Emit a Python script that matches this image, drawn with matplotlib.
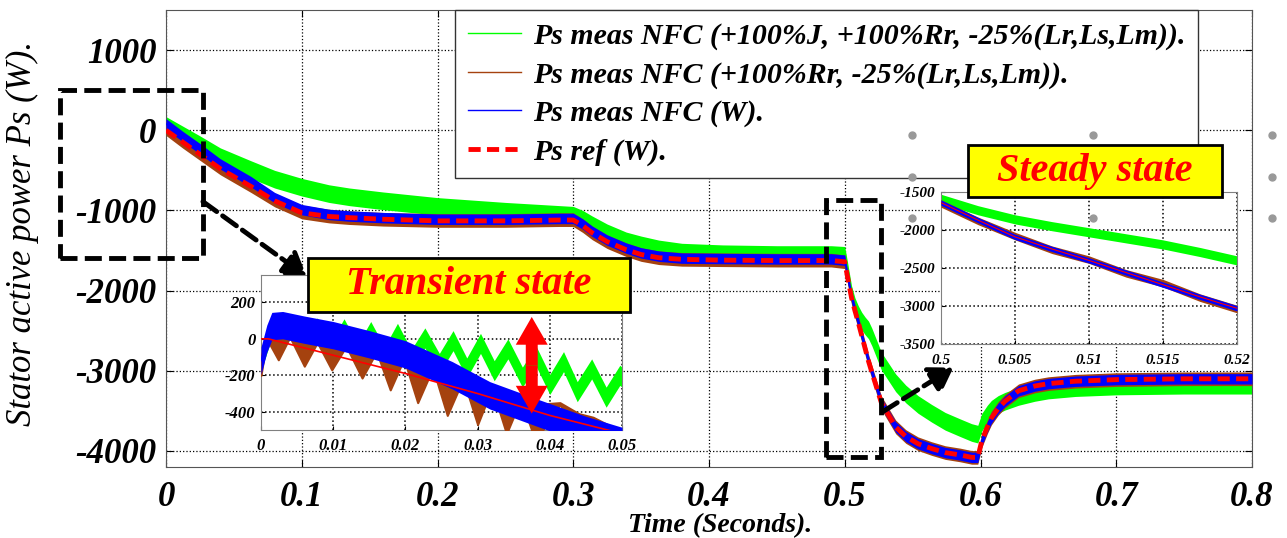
import matplotlib
matplotlib.use("Agg")
import matplotlib.pyplot as plt
from matplotlib.lines import Line2D
from matplotlib.patches import Rectangle

# ---- main plot data (time in s, stator power in W) ----
t_main = [0, 0.0125, 0.025, 0.04, 0.0625, 0.08, 0.1, 0.12, 0.135, 0.16, 0.2, 0.25,
          0.29, 0.3, 0.307, 0.314, 0.325, 0.339, 0.35, 0.363, 0.38, 0.41, 0.45, 0.49,
          0.5, 0.5025, 0.505, 0.5075, 0.51, 0.5125, 0.515, 0.5175, 0.52, 0.527,
          0.5375, 0.545, 0.554, 0.564, 0.574, 0.585, 0.5935, 0.598, 0.601, 0.605,
          0.608, 0.613, 0.618, 0.628, 0.64, 0.65, 0.67, 0.7, 0.75, 0.8]
ps_ref = [0, -150, -300, -480, -700, -880, -1030, -1075, -1090, -1110, -1130, -1130,
          -1120, -1120, -1190, -1280, -1390, -1490, -1550, -1590, -1610, -1620, -1625, -1625,
          -1640, -1870, -2090, -2250, -2400, -2560, -2720, -2880, -3020, -3400,
          -3700, -3820, -3910, -3970, -4020, -4050, -4080, -4080, -3870, -3700,
          -3590, -3470, -3380, -3250, -3190, -3160, -3130, -3110, -3100, -3100]
ps_nfc = [80, -80, -230, -420, -640, -840, -990, -1050, -1070, -1090, -1110, -1110,
          -1100, -1100, -1170, -1260, -1370, -1470, -1530, -1570, -1595, -1600, -1605, -1605,
          -1620, -1860, -2080, -2250, -2400, -2560, -2720, -2880, -3020, -3400,
          -3700, -3820, -3910, -3970, -4020, -4050, -4080, -4080, -3870, -3700,
          -3590, -3470, -3380, -3250, -3190, -3160, -3130, -3110, -3100, -3100]
ps_rr = [20, -140, -290, -470, -690, -870, -1020, -1070, -1090, -1110, -1125, -1125,
         -1115, -1115, -1190, -1280, -1390, -1490, -1550, -1590, -1610, -1615, -1620, -1620,
         -1640, -1870, -2090, -2250, -2400, -2560, -2720, -2880, -3020, -3400,
         -3700, -3820, -3910, -3970, -4020, -4050, -4080, -4080, -3870, -3700,
         -3590, -3470, -3380, -3250, -3190, -3160, -3130, -3110, -3100, -3100]
ps_j = [60, -60, -180, -330, -490, -610, -710, -790, -830, -880, -950, -1010,
        -1050, -1060, -1110, -1180, -1280, -1380, -1430, -1480, -1520, -1540, -1550, -1550,
        -1560, -1800, -2050, -2200, -2300, -2380, -2440, -2490, -2580, -2880,
        -3150, -3290, -3420, -3530, -3630, -3710, -3770, -3790, -3640, -3540,
        -3480, -3420, -3380, -3320, -3270, -3240, -3210, -3190, -3180, -3180]
ripple_main = {"j": 110, "rr": 85, "nfc": 65}

# ---- transient zoom (0 .. 0.05 s) ----
t_tr_nfc = [0, 0.0008, 0.0015, 0.003, 0.006, 0.01, 0.015, 0.02, 0.0265, 0.0317, 0.0386, 0.045, 0.05]
tr_nfc = [-120, 0, 70, 75, 50, 20, -30, -85, -200, -310, -410, -500, -560]
t_tr_ref = [0, 0.001, 0.01, 0.02, 0.03, 0.04, 0.05]
tr_ref = [0, 0, -90, -190, -300, -420, -520]
t_tr_rr = [0, 0.0008, 0.0024, 0.004, 0.006, 0.0078, 0.0098, 0.0118, 0.014, 0.016, 0.0179,
           0.0198, 0.0217, 0.0238, 0.0258, 0.028, 0.030, 0.032, 0.034, 0.036, 0.038,
           0.0414, 0.044, 0.046, 0.048]
tr_rr_low = [-200, 0, -115, 10, -150, -20, -170, -40, -215, -70, -280,
             -110, -350, -160, -420, -220, -470, -270, -520, -330, -560,
             -360, -520, -440, -520]
tr_rr_high = [-100, 20, 10, 20, -10, -10, -50, -30, -80, -60, -110,
              -100, -150, -150, -200, -210, -250, -260, -300, -320, -360,
              -350, -410, -430, -470]
t_tr_j = [0, 0.0015, 0.0040, 0.0059, 0.0078, 0.0097, 0.0115, 0.0134, 0.0152, 0.0171, 0.0189,
          0.0208, 0.0227, 0.0247, 0.0266, 0.0285, 0.0304, 0.0323, 0.0342, 0.0362, 0.0381,
          0.0400, 0.0419, 0.0438, 0.0458, 0.0478, 0.0497, 0.05]
tr_j = [-120, 60, 70, -50, 60, -70, 55, -85, 40, -100, 30,
        -115, 5, -135, -10, -160, -25, -175, -55, -210, -95,
        -250, -125, -290, -165, -320, -200, -210]
tr_xticks = [0, 0.01, 0.02, 0.03, 0.04, 0.05]
tr_xticklabels = ["0", "0.01", "0.02", "0.03", "0.04", "0.05"]
tr_yticks = [200, 0, -200, -400]

# ---- steady zoom (0.5 .. 0.52 s) ----
t_st = [0.5, 0.5025, 0.505, 0.5075, 0.51, 0.5125, 0.515, 0.5175, 0.52]
st_nfc = [-1640, -1870, -2090, -2250, -2400, -2560, -2720, -2880, -3030]
st_rr = [-1650, -1880, -2080, -2260, -2390, -2570, -2700, -2890, -3040]
st_j = [-1590, -1740, -1860, -1950, -2030, -2110, -2190, -2290, -2400]
st_xticks = [0.5, 0.505, 0.51, 0.515, 0.52]
st_xticklabels = ["0.5", "0.505", "0.51", "0.515", "0.52"]
st_yticks = [-1500, -2000, -2500, -3000, -3500]

labels = ["Ps meas NFC (+100%J, +100%Rr, -25%(Lr,Ls,Lm)).",
          "Ps meas NFC (+100%Rr, -25%(Lr,Ls,Lm)).",
          "Ps meas NFC (W).",
          "Ps ref (W)."]

GREEN = "#00ff00"
BROWN = "#a5420f"
BLUE = "#0000ff"
RED = "#ff0000"

W, H = 1287, 538


def fx(px):
    return px / W


def fy(py):
    return 1 - py / H


def band(ax, t, v, half, color, z, label=None):
    lo = [x - half for x in v]
    hi = [x + half for x in v]
    ax.fill_between(t, lo, hi, color=color, lw=0, zorder=z)
    ax.plot(t, v, color=color, lw=1, zorder=z, label=label)


def style_inset(ax):
    ax.grid(True, ls=":", color="k", lw=1.1)
    ax.tick_params(direction="in", length=3, labelsize=12, pad=4)
    for s in ax.spines.values():
        s.set_color("#808080")


def main():
    plt.rcParams["font.family"] = ["Liberation Serif", "DejaVu Serif"]
    plt.rcParams["font.style"] = "italic"
    plt.rcParams["font.weight"] = "bold"
    plt.rcParams["axes.unicode_minus"] = False

    fig = plt.figure(figsize=(W / 100, H / 100), dpi=100)

    # main axes
    ax = fig.add_axes([fx(166), fy(467), (1252 - 166) / W, (467 - 10) / H])
    band(ax, t_main, ps_j, ripple_main["j"], GREEN, 2, labels[0])
    band(ax, t_main, ps_rr, ripple_main["rr"], BROWN, 3, labels[1])
    band(ax, t_main, ps_nfc, ripple_main["nfc"], BLUE, 4, labels[2])
    ax.plot(t_main, ps_ref, color=RED, lw=3.5, dashes=(2.5, 1.3), zorder=5, label=labels[3])
    ax.set_xlim(0, 0.8)
    ax.set_ylim(-4200, 1500)
    ax.set_xticks([0, 0.1, 0.2, 0.3, 0.4, 0.5, 0.6, 0.7, 0.8])
    ax.set_xticklabels(["0", "0.1", "0.2", "0.3", "0.4", "0.5", "0.6", "0.7", "0.8"])
    ax.set_yticks([1000, 0, -1000, -2000, -3000, -4000])
    ax.grid(True, ls=":", color="k", lw=0.9)
    ax.tick_params(direction="in", length=5, top=True, right=True, labelsize=25)
    ax.tick_params(axis="x", pad=10)
    ax.tick_params(axis="y", pad=7)
    for s in ax.spines.values():
        s.set_color("#555555")
    ax.set_ylabel("Stator active power Ps (W).", fontsize=25, fontweight="normal")
    ax.yaxis.set_label_coords(-0.117, 0.51)
    ax.set_xlabel("Time (Seconds).", fontsize=20, fontweight="bold")
    ax.xaxis.set_label_coords(0.51, -0.10)

    leg = ax.legend(loc="upper left", bbox_to_anchor=((455 - 166) / 1086, 1.0),
                    fontsize=21.5, fancybox=False, edgecolor="#333333", framealpha=1,
                    handlelength=1.8, borderaxespad=0, labelspacing=0.38,
                    handletextpad=0.4, borderpad=0.42)
    leg.set_zorder(6)

    # dashed zoom frames and arrows
    dash = (0, (3.5, 1.5))
    ax.add_patch(Rectangle((-0.078, -1590), 0.078 + 0.0272, 2090, fill=False, ec="k",
                           lw=3.5, ls=dash, clip_on=False, zorder=7))
    ax.add_patch(Rectangle((0.486, -4075), 0.041, 3200, fill=False, ec="k",
                           lw=3.5, ls=dash, clip_on=False, zorder=7))
    arrow = dict(arrowstyle="-|>,head_length=0.7,head_width=0.45", lw=3.5, ls=dash,
                 color="k", mutation_scale=20, shrinkA=0, shrinkB=0)
    ax.annotate("", xy=(0.1037, -1825), xytext=(0.0272, -890), arrowprops=arrow, zorder=7)
    ax.annotate("", xy=(0.580, -2960), xytext=(0.528, -3510), arrowprops=arrow, zorder=7)

    # transient inset
    a1 = fig.add_axes([fx(261), fy(430), 361 / W, 155 / H])
    band(a1, t_tr_j, tr_j, 55, GREEN, 2)
    a1.fill_between(t_tr_rr, tr_rr_low, tr_rr_high, color=BROWN, lw=1.5, ec=BROWN, zorder=3)
    band(a1, t_tr_nfc, tr_nfc, 75, BLUE, 4)
    a1.plot(t_tr_ref, tr_ref, color=RED, lw=1.2, zorder=5)
    a1.set_xlim(0, 0.05)
    a1.set_ylim(-500, 350)
    a1.set_xticks(tr_xticks)
    a1.set_xticklabels(tr_xticklabels)
    a1.set_yticks(tr_yticks)
    style_inset(a1)
    a1.tick_params(axis="x", pad=6)
    fat = "simple,head_length=1.0,head_width=1.15,tail_width=0.43"
    for tip in (120, -410):
        a1.annotate("", xy=(0.0375, tip), xytext=(0.0375, -145),
                    arrowprops=dict(arrowstyle=fat, color=RED, lw=0, mutation_scale=20,
                                    shrinkA=0, shrinkB=0), zorder=8)

    # steady inset
    a2 = fig.add_axes([fx(941), fy(344), 296 / W, 152 / H])
    band(a2, t_st, st_j, 60, GREEN, 2)
    band(a2, t_st, st_rr, 50, BROWN, 3)
    band(a2, t_st, st_nfc, 35, BLUE, 4)
    a2.plot(t_st, st_nfc, color=RED, lw=0.8, zorder=5)
    a2.set_xlim(0.5, 0.52)
    a2.set_ylim(-3500, -1500)
    a2.set_xticks(st_xticks)
    a2.set_xticklabels(st_xticklabels)
    a2.set_yticks(st_yticks)
    style_inset(a2)
    a2.tick_params(labelsize=11)
    a2.tick_params(axis="x", pad=7)

    # yellow captions
    for (x0, y0, x1, y1), txt in [((308, 258, 630, 312), "Transient state"),
                                  ((968, 145, 1222, 197), "Steady state")]:
        fig.add_artist(Rectangle((fx(x0), fy(y1)), (x1 - x0) / W, (y1 - y0) / H,
                                 transform=fig.transFigure, fc="#ffff00", ec="k",
                                 lw=2, zorder=20))
        fig.text(fx((x0 + x1) / 2), fy((y0 + y1) / 2), txt, color=RED, fontsize=29,
                 ha="center", va="center", zorder=21)

    # selection handles visible in the screenshot
    hx = [912, 1093, 1272, 912, 1272, 912, 1093, 1272]
    hy = [135, 135, 135, 177, 177, 218, 218, 218]
    fig.add_artist(Line2D([fx(v) for v in hx], [fy(v) for v in hy],
                          transform=fig.transFigure, ls="none", marker="o", ms=5,
                          color="#999999", zorder=19))

    fig.savefig("out.png", dpi=100)


if __name__ == "__main__":
    main()
